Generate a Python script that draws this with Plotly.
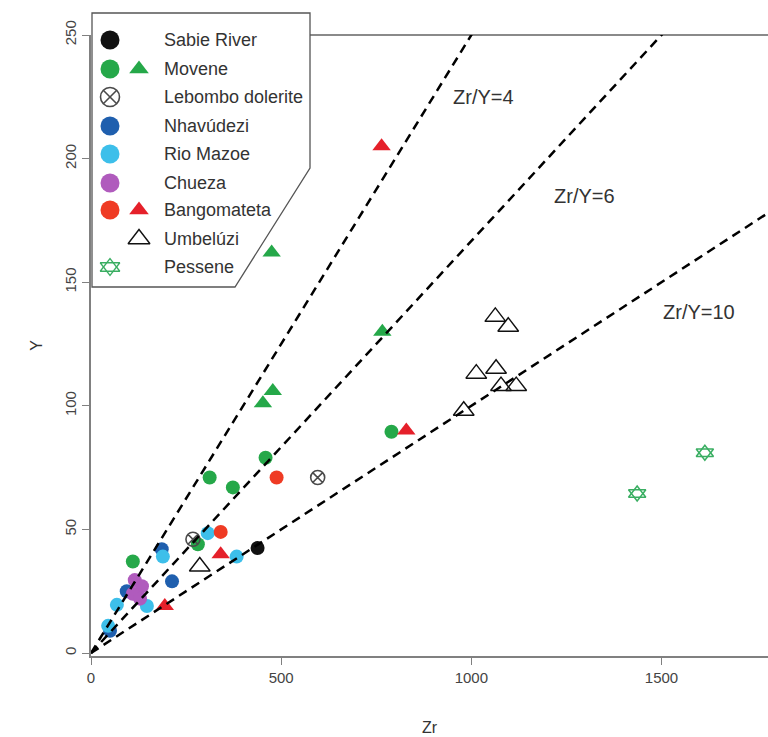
import plotly.graph_objects as go

# ---------------- data ----------------
sabie_zr = [438]
sabie_y = [42.5]

movene_c_zr = [110, 312, 373, 459, 281, 790]
movene_c_y = [37, 71, 67, 79, 44, 89.5]
movene_t_zr = [475, 766, 478, 452]
movene_t_y = [162, 130, 106, 101]

lebombo_zr = [268, 596]
lebombo_y = [46, 71]

nhav_zr = [186, 213, 94, 50]
nhav_y = [42, 29, 25, 9]

mazoe_zr = [189, 307, 383, 68, 147, 45]
mazoe_y = [39, 48.5, 39, 19.5, 19, 11]

chueza_zr = [115, 134, 110, 129]
chueza_y = [29.5, 27, 24, 22]

bango_c_zr = [341, 488]
bango_c_y = [49, 71]
bango_t_zr = [764, 829, 341, 194]
bango_t_y = [205, 90, 40, 19]

umbel_zr = [1063, 1097, 1013, 1065, 1078, 1118, 980, 286]
umbel_y = [136, 132, 113, 115, 108, 108, 98, 35]

pessene_zr = [1614, 1436]
pessene_y = [81, 64.5]

ratios = [4, 6, 10]
ratio_labels = ["Zr/Y=4", "Zr/Y=6", "Zr/Y=10"]
ratio_label_zr = [1031, 1297, 1598]
ratio_label_y = [225, 185, 138]

x_ticks = [0, 500, 1000, 1500]
y_ticks = [0, 50, 100, 150, 200, 250]

legend_names = ["Sabie River", "Movene", "Lebombo dolerite", "Nhavúdezi",
                "Rio Mazoe", "Chueza", "Bangomateta", "Umbelúzi", "Pessene"]

# ---------------- styles ----------------
C_BLACK = "#111111"
C_GREEN = "#25a849"
C_BLUE = "#1f5fae"
C_LBLUE = "#3dbfea"
C_PURPLE = "#b05bbd"
C_RED_C = "#ef3b24"
C_RED_T = "#e5202a"
C_GRAY = "#4a4a4a"
C_PESS = "#3aae62"
FONT = "Liberation Sans, Arial, sans-serif"

W, H = 768, 737
L, R, T, B = 91, 0, 35, 81
XMAX = 1780
YMIN, YMAX = -1.2, 250

fig = go.Figure()


def pts(x, y, symbol, color, size, lw=0, lc=None, name=""):
    fig.add_trace(go.Scatter(
        x=x, y=y, mode="markers", name=name, showlegend=False,
        marker=dict(symbol=symbol, color=color, size=size,
                    line=dict(width=lw, color=lc if lc else color)),
        hoverinfo="x+y+name"))


pts(sabie_zr, sabie_y, "circle", C_BLACK, 14, name="Sabie River")
pts(movene_c_zr, movene_c_y, "circle", C_GREEN, 14, name="Movene")
pts(movene_t_zr, movene_t_y, "triangle-up", C_GREEN, 16, name="Movene")
pts(lebombo_zr, lebombo_y, "circle-x-open", C_GRAY, 14, 1.6, C_GRAY, "Lebombo dolerite")
pts(nhav_zr, nhav_y, "circle", C_BLUE, 14, name="Nhavúdezi")
pts(mazoe_zr, mazoe_y, "circle", C_LBLUE, 14, name="Rio Mazoe")
pts(chueza_zr, chueza_y, "circle", C_PURPLE, 14, name="Chueza")
pts(bango_c_zr, bango_c_y, "circle", C_RED_C, 14, name="Bangomateta")
pts(bango_t_zr, bango_t_y, "triangle-up", C_RED_T, 16, name="Bangomateta")
pts(umbel_zr, umbel_y, "triangle-up-open", C_BLACK, 18, 1.4, C_GRAY, "Umbelúzi")
pts(pessene_zr, pessene_y, "triangle-up-open", C_PESS, 15, 1.5, C_PESS, "Pessene")
pts(pessene_zr, pessene_y, "triangle-down-open", C_PESS, 15, 1.5, C_PESS, "Pessene")

# reference lines Zr/Y = const
for r in ratios:
    fig.add_trace(go.Scatter(
        x=[0, XMAX], y=[0, XMAX / r], mode="lines", showlegend=False,
        line=dict(color="black", width=2.5, dash="9px,6px"), hoverinfo="skip"))

for lab, lx, ly in zip(ratio_labels, ratio_label_zr, ratio_label_y):
    fig.add_annotation(x=lx, y=ly, text=lab, showarrow=False,
                       font=dict(family=FONT, size=20, color="#333333"))


# ---------------- custom legend (pixel-space overlay axes) ----------------
def px_to_paper(px, py):
    return (px - L) / (W - L - R), (H - B - py) / (H - T - B)


# top frame line (plot box top edge), right of the legend box
fig.add_shape(type="line", xref="paper", yref="paper",
              x0=px_to_paper(300, 0)[0], x1=1, y0=1, y1=1,
              line=dict(color="#8a8a8a", width=2), layer="below")

box = [(92, 13), (310, 13), (310, 168), (235, 287), (92, 287)]
path = "M " + " L ".join(f"{px_to_paper(a, b)[0]:.5f},{px_to_paper(a, b)[1]:.5f}" for a, b in box) + " Z"
fig.add_shape(type="path", path=path, xref="paper", yref="paper",
              fillcolor="white", line=dict(color="#555555", width=1.3), layer="below")

row_y = [40, 69, 97, 126, 154, 183, 210, 239, 267]
c1, c2, tx = 110, 139, 162


def leg(x, y, symbol, color, size, lw=0, lc=None):
    fig.add_trace(go.Scatter(
        x=[x], y=[y], xaxis="x2", yaxis="y2", mode="markers", showlegend=False,
        cliponaxis=False, hoverinfo="skip",
        marker=dict(symbol=symbol, color=color, size=size,
                    line=dict(width=lw, color=lc if lc else color))))


leg(c1, row_y[0], "circle", C_BLACK, 19)
leg(c1, row_y[1], "circle", C_GREEN, 19)
leg(c2, row_y[1], "triangle-up", C_GREEN, 17)
leg(c1, row_y[2], "circle-x-open", C_GRAY, 19, 1.6, C_GRAY)
leg(c1, row_y[3], "circle", C_BLUE, 19)
leg(c1, row_y[4], "circle", C_LBLUE, 19)
leg(c1, row_y[5], "circle", C_PURPLE, 19)
leg(c1, row_y[6], "circle", C_RED_C, 19)
leg(c2, row_y[6], "triangle-up", C_RED_T, 17)
leg(c2, row_y[7], "triangle-up-open", C_BLACK, 19, 1.4, C_GRAY)
leg(c1, row_y[8], "triangle-up-open", C_PESS, 17, 1.3, C_PESS)
leg(c1, row_y[8], "triangle-down-open", C_PESS, 17, 1.3, C_PESS)

for name, ry in zip(legend_names, row_y):
    ax, ay = px_to_paper(tx, ry)
    fig.add_annotation(x=ax, y=ay, xref="paper", yref="paper", text=name,
                       showarrow=False, xanchor="left", yanchor="middle",
                       font=dict(family=FONT, size=18, color="#333333"))

# ---------------- layout ----------------
axis_common = dict(showgrid=False, zeroline=False, showline=True, linecolor="#808080",
                   linewidth=1.5, ticks="outside", ticklen=7, tickcolor="#808080",
                   tickwidth=1.3, tickfont=dict(family=FONT, size=15, color="#444444"))

fig.update_layout(
    width=W, height=H, margin=dict(l=L, r=R, t=T, b=B),
    paper_bgcolor="white", plot_bgcolor="white",
    xaxis=dict(range=[0, XMAX], tickvals=x_ticks, mirror=False,
               title=dict(text="Zr", font=dict(family=FONT, size=16, color="#333333"), standoff=37),
               **axis_common),
    yaxis=dict(range=[YMIN, YMAX], tickvals=y_ticks, tickangle=-90,
               title=dict(text="Y", font=dict(family=FONT, size=16, color="#333333"), standoff=16),
               **axis_common),
    xaxis2=dict(range=[L, W - R], overlaying="x", visible=False, fixedrange=True),
    yaxis2=dict(range=[H - B, T], overlaying="y", visible=False, fixedrange=True),
)

fig.write_html("out.html", config={"displayModeBar": False},
               post_script="document.body.style.margin='0';document.body.style.padding='0';")
